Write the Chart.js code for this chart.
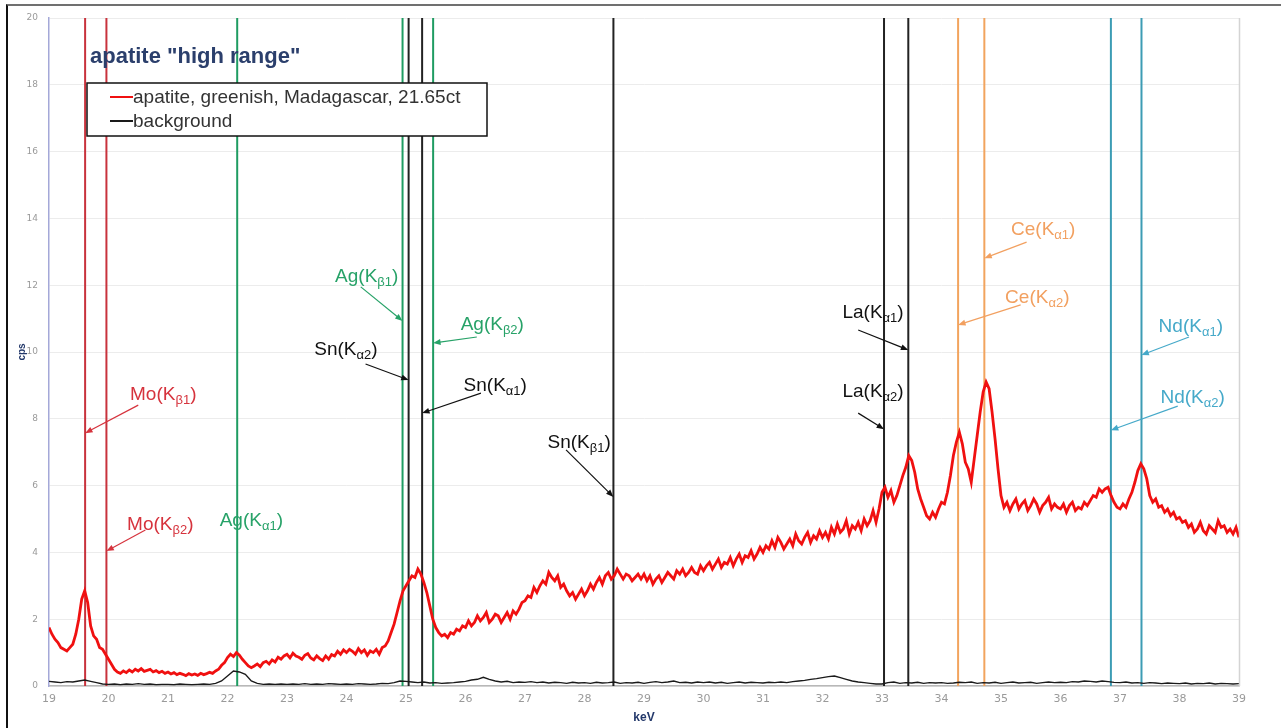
<!DOCTYPE html>
<html>
<head>
<meta charset="utf-8">
<script src="https://cdn.jsdelivr.net/npm/chart.js@4"></script>
<style>
  body { margin: 0; background: #fff; }
  #wrap { position: relative; width: 1281px; height: 728px; }
  #frame { position: absolute; left: 6px; top: 4px; right: 0; bottom: 0;
           border-top: 2px solid #707070; border-left: 2px solid #111; pointer-events: none; }
  canvas { position: absolute; left: 0; top: 0; }
</style>
</head>
<body>
<div id="wrap">
  <canvas id="myChart" width="1281" height="728"></canvas>
  <div id="frame"></div>
</div>
<script>
	// spectrum: apatite, counts per second, one value every 0.05 keV from 19.00 to 39.00
	var startKeV = 19;
	var stepKeV = 0.05;
	var apatiteCps = [
		1.75, 1.55, 1.4, 1.3, 1.15, 1.1, 1.05, 1.15, 1.25, 1.55, 2.0, 2.6, 2.85, 2.5, 1.8, 1.5, 1.4, 1.15, 1.1, 0.95,
		0.8, 0.65, 0.5, 0.42, 0.38, 0.45, 0.4, 0.48, 0.42, 0.5, 0.45, 0.52, 0.44, 0.47, 0.5, 0.42, 0.46, 0.4, 0.44, 0.38,
		0.42, 0.36, 0.4, 0.34, 0.38, 0.35, 0.31, 0.37, 0.33, 0.36, 0.32, 0.38, 0.34, 0.37, 0.41, 0.38, 0.45, 0.5, 0.62, 0.7,
		0.85, 0.95, 0.88, 1.0, 0.92, 0.8, 0.7, 0.6, 0.55, 0.6, 0.66, 0.58, 0.7, 0.74, 0.66, 0.78, 0.72, 0.86, 0.8, 0.9,
		0.95, 0.84, 0.98, 0.9, 0.86, 0.8, 0.92, 0.97, 0.84, 0.78, 0.9, 0.82, 0.76, 0.9, 0.8, 0.94, 0.9, 1.04, 0.95, 1.08,
		1.0, 1.1, 1.04, 0.95, 1.12, 1.0, 1.08, 0.92, 1.05, 1.0, 1.1, 0.95, 1.15, 1.2, 1.35, 1.6, 1.85, 2.2, 2.55, 2.85,
		3.0, 3.15, 3.3, 3.25, 3.5, 3.35, 3.1, 2.8, 2.4, 2.0, 1.75, 1.6, 1.5, 1.55, 1.45, 1.6, 1.55, 1.7, 1.65, 1.8,
		1.75, 1.95, 1.8, 1.9, 2.1, 1.95, 2.05, 2.2, 1.9, 2.0, 2.15, 2.1, 1.9, 2.05, 2.2, 2.0, 2.25, 2.15, 2.3, 2.5,
		2.55, 2.7, 2.65, 2.95, 2.8, 3.0, 3.15, 3.05, 3.4, 3.25, 3.15, 3.3, 2.95, 3.05, 2.85, 2.7, 2.8, 2.6, 2.75, 2.9,
		2.7, 2.85, 3.05, 2.9, 3.1, 3.25, 3.05, 3.3, 3.4, 3.2, 3.3, 3.5, 3.35, 3.2, 3.35, 3.3, 3.15, 3.25, 3.35, 3.2,
		3.35, 3.15, 3.3, 3.05, 3.2, 3.3, 3.1, 3.25, 3.4, 3.3, 3.2, 3.45, 3.35, 3.5, 3.3, 3.4, 3.55, 3.4, 3.35, 3.6,
		3.45, 3.6, 3.7, 3.5, 3.65, 3.8, 3.55, 3.7, 3.65, 3.85, 3.6, 3.8, 3.95, 3.7, 3.9, 3.85, 4.05, 3.8, 3.95, 4.15,
		4.0, 4.2, 4.1, 4.35, 4.15, 4.45, 4.3, 4.1, 4.25, 4.4, 4.2, 4.55, 4.35, 4.25, 4.45, 4.6, 4.3, 4.5, 4.4, 4.65,
		4.45, 4.6, 4.4, 4.75, 4.55, 4.85, 4.6, 4.7, 4.95, 4.55, 4.8, 4.7, 4.9, 4.65, 5.0, 4.8, 4.95, 5.25, 4.9, 5.3,
		5.8, 5.95, 5.65, 5.85, 5.5, 5.7, 6.0, 6.3, 6.55, 6.9, 6.75, 6.4, 5.9, 5.6, 5.35, 5.1, 5.0, 5.2, 5.05, 5.3,
		5.5, 5.45, 5.8, 6.3, 6.9, 7.3, 7.6, 7.25, 6.7, 6.5, 6.1, 6.8, 7.5, 8.2, 8.8, 9.1, 8.9, 8.2, 7.4, 6.5,
		5.7, 5.35, 5.5, 5.25, 5.45, 5.6, 5.3, 5.45, 5.55, 5.25, 5.4, 5.6, 5.45, 5.2, 5.4, 5.5, 5.65, 5.3, 5.45, 5.35,
		5.3, 5.45, 5.2, 5.4, 5.5, 5.25, 5.35, 5.3, 5.5, 5.4, 5.55, 5.7, 5.65, 5.9, 5.8, 5.9, 5.95, 5.7, 5.5, 5.35,
		5.3, 5.45, 5.35, 5.6, 5.8, 6.1, 6.45, 6.65, 6.5, 6.2, 5.7, 5.5, 5.6, 5.35, 5.4, 5.2, 5.3, 5.1, 5.2, 5.0,
		5.05, 4.9, 4.95, 4.75, 4.85, 4.6, 4.7, 4.9, 4.65, 4.55, 4.8, 4.7, 4.6, 4.95, 4.75, 4.8, 4.6, 4.7, 4.55, 4.75,
		4.45
	];

	// background, one value every 0.1 keV from 19.0 to 39.0
	var bgStepKeV = 0.1;
	var backgroundCps = [
		0.14, 0.12, 0.1, 0.13, 0.12, 0.15, 0.18, 0.14, 0.1, 0.06,
		0.05, 0.06, 0.04, 0.06, 0.05, 0.07, 0.05, 0.06, 0.04, 0.05,
		0.05, 0.04, 0.06, 0.05, 0.04, 0.05, 0.06, 0.05, 0.08, 0.15,
		0.3, 0.45, 0.42, 0.35, 0.15, 0.08, 0.05, 0.06, 0.05, 0.06,
		0.05, 0.06, 0.05, 0.07, 0.05, 0.06, 0.05, 0.07, 0.06, 0.05,
		0.06, 0.05, 0.07, 0.06, 0.05, 0.06, 0.08, 0.07, 0.1, 0.15,
		0.14, 0.12, 0.1, 0.12, 0.09, 0.1, 0.08, 0.09, 0.1, 0.12,
		0.14, 0.18, 0.2, 0.26, 0.2, 0.15, 0.12, 0.14, 0.1, 0.12,
		0.11, 0.13, 0.1, 0.12, 0.09, 0.11, 0.1, 0.08, 0.11, 0.09,
		0.1, 0.08, 0.11, 0.09, 0.1, 0.12, 0.08, 0.1, 0.09, 0.11,
		0.08, 0.11, 0.13, 0.1, 0.12, 0.15, 0.1, 0.11, 0.09, 0.12,
		0.1, 0.12, 0.09, 0.11, 0.08, 0.1, 0.12, 0.09, 0.11, 0.1,
		0.09, 0.11, 0.1, 0.12, 0.1, 0.13, 0.15, 0.17, 0.2, 0.22,
		0.25, 0.28, 0.3, 0.25, 0.2, 0.15, 0.12, 0.1, 0.08, 0.06,
		0.06, 0.1, 0.12, 0.08, 0.1, 0.09, 0.11, 0.08, 0.1, 0.09,
		0.1, 0.08, 0.09, 0.11, 0.1, 0.12, 0.08, 0.1, 0.09, 0.11,
		0.08, 0.1, 0.12, 0.09, 0.1, 0.11, 0.08, 0.1, 0.12, 0.1,
		0.11, 0.1, 0.13, 0.12, 0.15, 0.14, 0.12, 0.15, 0.13, 0.11,
		0.1, 0.12, 0.09, 0.1, 0.08, 0.1, 0.09, 0.07, 0.09, 0.08,
		0.07, 0.09, 0.06, 0.08, 0.07, 0.09, 0.06, 0.08, 0.07, 0.06,
		0.07
	];

	// emission lines (keV)
	var lineElements = ['Mo', 'Mo', 'Ag', 'Ag', 'Sn', 'Sn', 'Ag', 'Sn', 'La', 'La', 'Ce', 'Ce', 'Nd', 'Nd'];
	var lineShells   = ['β1', 'β2', 'α1', 'β1', 'α2', 'α1', 'β2', 'β1', 'α2', 'α1', 'α2', 'α1', 'α2', 'α1'];
	var lineEnergies = [19.607, 19.965, 22.163, 24.942, 25.044, 25.271, 25.456, 28.486, 33.034, 33.442, 34.279, 34.720, 36.847, 37.361];

	// where each label sits (keV, cps), where its arrow starts and the cps where the arrow hits the line
	var labelKeV  = [20.92, 20.87, 22.40, 24.34, 23.99, 26.50, 26.45, 27.91, 32.85, 32.85, 35.61, 35.71, 38.22, 38.19];
	var labelCps  = [8.77, 4.88, 5.0, 12.31, 10.12, 9.04, 10.87, 7.34, 8.86, 11.23, 11.68, 13.71, 8.68, 10.81];
	var tailKeV   = [20.50, 20.62, null, 24.24, 24.32, 26.26, 26.19, 27.69, 32.60, 32.60, 35.33, 35.43, 37.97, 38.16];
	var tailCps   = [8.41, 4.67, null, 11.95, 9.64, 8.77, 10.45, 7.07, 8.17, 10.66, 11.41, 13.29, 8.38, 10.45];
	var tipCps    = [7.57, 4.04, null, 10.93, 9.16, 8.17, 10.27, 5.66, 7.69, 10.06, 10.81, 12.81, 7.66, 9.91];

	var xTicksMin = 19, xTicksMax = 39;
	var yTicksMin = 0, yTicksMax = 20;

	var elementLine = { Mo: '#c8323c', Ag: '#1f9c62', Sn: '#222', La: '#222', Ce: '#f2a45e', Nd: '#3c9cb4' };
	var elementText = { Mo: '#d6333d', Ag: '#27a268', Sn: '#111', La: '#111', Ce: '#f2a060', Nd: '#45a9c9' };

	var apatitePoints = apatiteCps.map(function (v, i) { return { x: startKeV + i * stepKeV, y: v }; });
	var bgPoints = backgroundCps.map(function (v, i) { return { x: startKeV + i * bgStepKeV, y: v }; });

	var datasets = [
		{ label: 'apatite, greenish, Madagascar, 21.65ct', data: apatitePoints, borderColor: '#f01010', borderWidth: 2.8, order: 1 },
		{ label: 'background', data: bgPoints, borderColor: '#1a1a1a', borderWidth: 1.4, order: 2 }
	];
	lineEnergies.forEach(function (e, i) {
		datasets.push({
			label: lineElements[i] + ' K' + lineShells[i],
			data: [{ x: e, y: yTicksMin }, { x: e, y: yTicksMax }],
			borderColor: elementLine[lineElements[i]],
			borderWidth: 2,
			order: 3
		});
	});

	var decor = {
		id: 'decor',
		afterDraw: function (chart) {
			var ctx = chart.ctx, a = chart.chartArea, x = chart.scales.x, y = chart.scales.y;
			ctx.save();

			// right frame of plot
			ctx.strokeStyle = '#d4d4d4';
			ctx.lineWidth = 1.5;
			ctx.beginPath();
			ctx.moveTo(a.right + 0.5, a.top);
			ctx.lineTo(a.right + 0.5, a.bottom);
			ctx.stroke();

			// peak labels and arrows
			lineEnergies.forEach(function (e, i) {
				var el = lineElements[i];
				var col = elementText[el];
				var cx = x.getPixelForValue(labelKeV[i]);
				var cy = y.getPixelForValue(labelCps[i]);
				var big = '19px "Liberation Sans", Arial, sans-serif';
				var small = '13px "Liberation Sans", Arial, sans-serif';
				var t1 = el + '(K', t2 = lineShells[i], t3 = ')';
				ctx.font = big;
				var w1 = ctx.measureText(t1).width, w3 = ctx.measureText(t3).width;
				ctx.font = small;
				var w2 = ctx.measureText(t2).width;
				var sx = cx - (w1 + w2 + w3) / 2;
				var base = cy + 7;
				ctx.fillStyle = col;
				ctx.textAlign = 'left';
				ctx.textBaseline = 'alphabetic';
				ctx.font = big;
				ctx.fillText(t1, sx, base);
				ctx.font = small;
				ctx.fillText(t2, sx + w1, base + 4);
				ctx.font = big;
				ctx.fillText(t3, sx + w1 + w2, base);

				if (tailKeV[i] === null) return;
				var x0 = x.getPixelForValue(tailKeV[i]), y0 = y.getPixelForValue(tailCps[i]);
				var x1 = x.getPixelForValue(e), y1 = y.getPixelForValue(tipCps[i]);
				var ang = Math.atan2(y1 - y0, x1 - x0);
				ctx.strokeStyle = col;
				ctx.lineWidth = 1.2;
				ctx.beginPath();
				ctx.moveTo(x0, y0);
				ctx.lineTo(x1 - 5 * Math.cos(ang), y1 - 5 * Math.sin(ang));
				ctx.stroke();
				ctx.beginPath();
				ctx.moveTo(x1, y1);
				ctx.lineTo(x1 - 8 * Math.cos(ang - 0.38), y1 - 8 * Math.sin(ang - 0.38));
				ctx.lineTo(x1 - 8 * Math.cos(ang + 0.38), y1 - 8 * Math.sin(ang + 0.38));
				ctx.closePath();
				ctx.fill();
			});

			// title inside the plot
			ctx.fillStyle = '#2b3f6c';
			ctx.font = 'bold 22px "Liberation Sans", Arial, sans-serif';
			ctx.textBaseline = 'alphabetic';
			ctx.fillText('apatite "high range"', a.left + 41, a.top + 45);

			// legend box
			var lx = a.left + 38, ly = a.top + 65, lw = 400, lh = 53;
			ctx.fillStyle = '#fff';
			ctx.fillRect(lx, ly, lw, lh);
			ctx.strokeStyle = '#111';
			ctx.lineWidth = 1.5;
			ctx.strokeRect(lx, ly, lw, lh);
			ctx.font = '19px "Liberation Sans", Arial, sans-serif';
			ctx.textBaseline = 'middle';
			[0, 1].forEach(function (k) {
				var ds = chart.data.datasets[k];
				var ry = ly + 14 + k * 24;
				ctx.strokeStyle = ds.borderColor;
				ctx.lineWidth = 2;
				ctx.beginPath();
				ctx.moveTo(lx + 23, ry);
				ctx.lineTo(lx + 46, ry);
				ctx.stroke();
				ctx.fillStyle = '#333';
				ctx.fillText(ds.label, lx + 46, ry + 1);
			});
			ctx.restore();
		}
	};

	var config = {
		type: 'line',
		data: { datasets: datasets },
		options: {
			responsive: false,
			animation: false,
			devicePixelRatio: 1,
			elements: { point: { radius: 0 }, line: { tension: 0 } },
			layout: { padding: { left: 6, right: 42, top: 18, bottom: 0 } },
			plugins: {
				legend: { display: false },
				tooltip: { enabled: false }
			},
			scales: {
				x: {
					type: 'linear',
					min: xTicksMin,
					max: xTicksMax,
					ticks: { stepSize: 1, color: '#9a9a9a', padding: 7, font: { size: 11, family: 'DejaVu Sans' } },
					grid: { display: false, drawTicks: false },
					border: { color: '#b8b8b8', width: 1.5 },
					title: { display: true, text: 'keV', color: '#23386a', padding: { top: 0, bottom: 3 },
						font: { size: 12, weight: 'bold', family: 'Liberation Sans' } },
					afterFit: function (s) { s.height = 42; }
				},
				y: {
					min: yTicksMin,
					max: yTicksMax,
					ticks: { stepSize: 2, color: '#9a9a9a', padding: 11, font: { size: 9, family: 'DejaVu Sans' } },
					grid: { color: '#ececec', drawTicks: false },
					border: { color: '#a4a8d8', width: 1.5 },
					title: { display: true, text: 'cps', color: '#23386a', padding: { top: 10, bottom: 0 },
						font: { size: 10, weight: 'bold', family: 'Liberation Sans' } },
					afterFit: function (s) { s.width = 43; }
				}
			}
		},
		plugins: [decor]
	};

	var myChart = new Chart(document.getElementById('myChart'), config);
</script>
</body>
</html>
